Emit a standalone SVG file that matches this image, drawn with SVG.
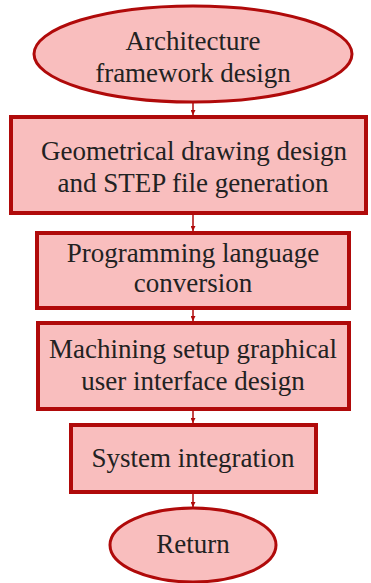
<svg xmlns="http://www.w3.org/2000/svg" width="371" height="583" viewBox="0 0 371 583">
  <style>
    .shape { fill: #f9bebe; stroke: #b00a0a; stroke-width: 4; }
    .term { fill: #f9bebe; stroke: #b00a0a; stroke-width: 3; }
    .label { font-family: "Liberation Serif", "Times New Roman", serif; font-size: 27px; fill: #222222; text-anchor: middle; }
    .link { stroke: #b00a0a; stroke-width: 1.5; fill: none; marker-end: url(#arrow); }
  </style>
  <defs>
    <marker id="arrow" viewBox="0 0 10 10" refX="10" refY="5" markerWidth="5" markerHeight="5" orient="auto" markerUnits="userSpaceOnUse">
      <path d="M0,0 L10,5 L0,10 z" fill="#b00a0a"/>
    </marker>
  </defs>
  <rect width="371" height="583" fill="#ffffff"/>

  <g id="connectors">
    <line class="link" x1="193" y1="102" x2="193" y2="115"/>
    <line class="link" x1="193" y1="214" x2="193" y2="231"/>
    <line class="link" x1="193" y1="309" x2="193" y2="321"/>
    <line class="link" x1="193" y1="410" x2="193" y2="423"/>
    <line class="link" x1="193" y1="493" x2="193" y2="507"/>
  </g>

  <g id="start">
    <ellipse class="term" cx="193" cy="54" rx="159" ry="48"/>
    <text class="label" x="193" y="50">Architecture</text>
    <text class="label" x="193" y="82">framework design</text>
  </g>

  <g id="geometry">
    <rect class="shape" x="11" y="117" width="355" height="96"/>
    <text class="label" x="194" y="160">Geometrical drawing design</text>
    <text class="label" x="193" y="192">and STEP file generation</text>
  </g>

  <g id="conversion">
    <rect class="shape" x="37" y="233" width="312" height="75"/>
    <text class="label" x="193" y="262">Programming language</text>
    <text class="label" x="193" y="292">conversion</text>
  </g>

  <g id="gui">
    <rect class="shape" x="38" y="323" width="311" height="86"/>
    <text class="label" x="193" y="358">Machining setup graphical</text>
    <text class="label" x="193" y="390">user interface design</text>
  </g>

  <g id="integration">
    <rect class="shape" x="71" y="425" width="245" height="67"/>
    <text class="label" x="193" y="467">System integration</text>
  </g>

  <g id="return">
    <ellipse class="term" cx="193" cy="545" rx="83" ry="37"/>
    <text class="label" x="193" y="553">Return</text>
  </g>
</svg>
